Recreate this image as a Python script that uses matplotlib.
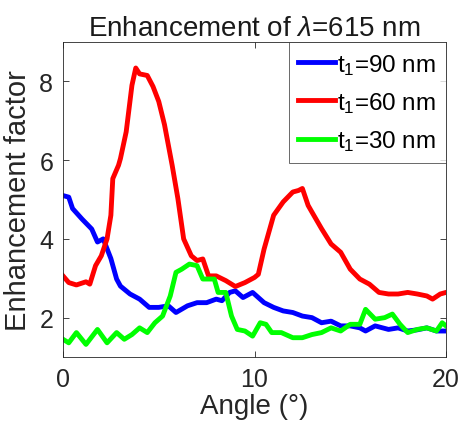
import matplotlib
matplotlib.use("Agg")
import matplotlib.pyplot as plt

plt.rcParams['font.family'] = ['Liberation Sans', 'DejaVu Sans']
plt.rcParams['mathtext.fontset'] = 'custom'
plt.rcParams['mathtext.rm'] = 'Liberation Sans'
plt.rcParams['mathtext.it'] = 'Liberation Sans:italic'

x_blue = [0, 0.3, 0.5, 1, 1.5, 1.8, 2.1, 2.5, 2.8, 3, 3.5, 4, 4.5, 5, 5.5, 5.9, 6.5, 7, 7.5, 8, 8.3,
          8.7, 9, 9.4, 9.9, 10.5, 11, 11.5, 12, 12.5, 13, 13.5, 14, 14.5, 15, 15.5, 15.8, 16.3, 17,
          17.5, 18, 18.5, 19, 19.5, 20]
y_blue = [5.1, 5.06, 4.77, 4.5, 4.25, 3.92, 4.0, 3.5, 2.98, 2.8, 2.6, 2.47, 2.26, 2.26, 2.3, 2.13, 2.3,
          2.38, 2.38, 2.47, 2.43, 2.64, 2.68, 2.51, 2.64, 2.38, 2.26, 2.17, 2.13, 2.04, 2.0, 1.87, 1.91,
          1.79, 1.79, 1.74, 1.66, 1.79, 1.7, 1.74, 1.66, 1.69, 1.74, 1.66, 1.66]

x_red = [0, 0.3, 0.7, 1.2, 1.4, 1.7, 2, 2.3, 2.5, 2.6, 2.9, 3.0, 3.3, 3.6, 3.8, 4.0, 4.4, 4.7, 5, 5.3,
         5.7, 6, 6.3, 6.7, 7, 7.3, 7.6, 8, 8.5, 9, 9.5, 10, 10.2, 10.5, 11, 11.5, 12, 12.3, 12.5, 12.8,
         13, 13.5, 14, 14.5, 15, 15.5, 16, 16.5, 17, 17.5, 18, 18.5, 19, 19.3, 19.7, 20]
y_red = [3.06, 2.89, 2.83, 2.91, 2.85, 3.32, 3.57, 4.0, 4.6, 5.53, 5.87, 6.04, 6.72, 7.9, 8.34, 8.19,
         8.15, 7.87, 7.49, 6.9, 5.87, 5.02, 4.0, 3.57, 3.45, 3.49, 3.06, 3.06, 2.94, 2.79, 2.89, 3.02,
         3.1, 3.74, 4.6, 4.94, 5.19, 5.23, 5.28, 4.85, 4.68, 4.26, 3.87, 3.66, 3.23, 2.98, 2.85, 2.64,
         2.6, 2.6, 2.64, 2.6, 2.55, 2.47, 2.6, 2.64]

x_green = [0, 0.3, 0.7, 1.2, 1.8, 2.3, 2.8, 3.2, 3.6, 4, 4.4, 4.8, 5.2, 5.6, 5.9, 6.2, 6.6, 7, 7.3,
           7.6, 7.9, 8.1, 8.5, 8.8, 9.1, 9.5, 9.9, 10.3, 10.6, 10.9, 11.4, 12, 12.5, 13, 13.5, 14,
           14.5, 15, 15.5, 15.8, 16.3, 16.8, 17.2, 17.6, 18, 18.5, 19, 19.5, 19.8, 20]
y_green = [1.45, 1.36, 1.62, 1.32, 1.70, 1.36, 1.62, 1.45, 1.57, 1.74, 1.62, 1.87, 2.04, 2.55, 3.15,
           3.23, 3.36, 3.32, 2.98, 2.98, 2.98, 2.64, 2.64, 2.04, 1.70, 1.66, 1.53, 1.87, 1.83, 1.62,
           1.62, 1.49, 1.49, 1.57, 1.62, 1.74, 1.66, 1.83, 1.83, 2.21, 1.96, 2.0, 2.09, 1.83, 1.62,
           1.70, 1.74, 1.66, 1.87, 1.79]

labels = [r'$\mathregular{t_1}$=90 nm', r'$\mathregular{t_1}$=60 nm', r'$\mathregular{t_1}$=30 nm']
title = r'Enhancement of $\lambda$=615 nm'
xticks = [0, 10, 20]
yticks = [2, 4, 6, 8]

fig = plt.figure(figsize=(4.61, 4.31), dpi=100)
ax = fig.add_axes([63/461, 1 - 358/431, (446-63)/461, (358-43)/431])

lw = 3.5
ax.plot(x_blue, y_blue, color='#0000ff', lw=lw, label=labels[0], solid_joinstyle='round')
ax.plot(x_red, y_red, color='#ff0000', lw=lw, label=labels[1], solid_joinstyle='round')
ax.plot(x_green, y_green, color='#00ff00', lw=lw, label=labels[2], solid_joinstyle='round')

ax.set_xlim(0, 20)
ax.set_ylim(1, 9)
ax.set_xticks(xticks)
ax.set_yticks(yticks)
ax.tick_params(direction='in', top=True, right=True, length=4, width=0.6,
               colors='#262626', labelsize=18, labelcolor='#262626', pad=7)
for s in ax.spines.values():
    s.set_color('#262626')
    s.set_linewidth(0.6)

ax.set_xlabel('Angle (°)', fontsize=20, color='#262626', labelpad=2)
ax.set_ylabel('Enhancement factor', fontsize=21, color='#262626', labelpad=5)
ax.set_title(title, fontsize=20, color='#1a1a1a', pad=5)

leg = ax.legend(loc='upper right', fontsize=17.5, frameon=True, fancybox=False,
                borderaxespad=0, handlelength=1.5, handletextpad=0.1,
                borderpad=0.4, labelspacing=0.55)
leg.get_frame().set_edgecolor('#262626')
leg.get_frame().set_linewidth(0.6)

fig.savefig('out.png', dpi=100)
